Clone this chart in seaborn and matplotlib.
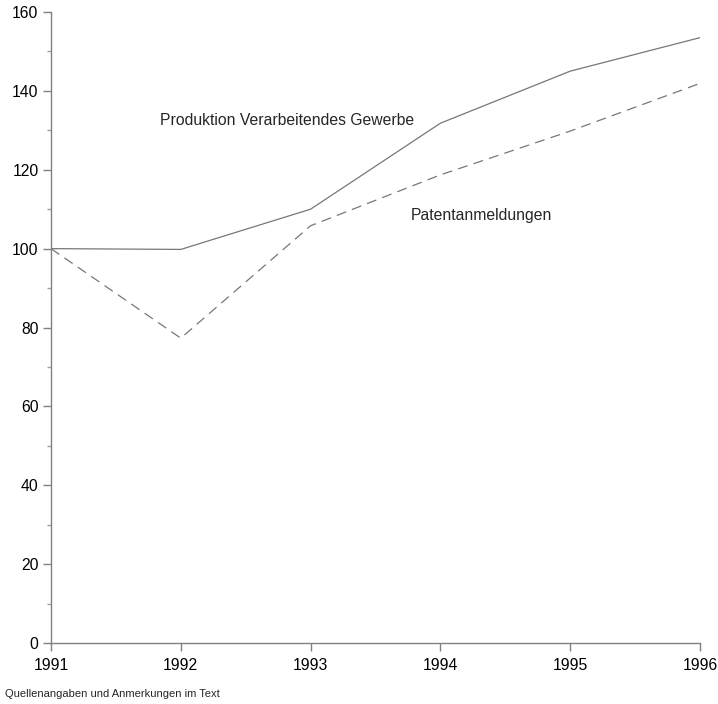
import pandas as pd
import matplotlib.pyplot as plt
import seaborn as sns

# values (index, 1991 = 100)
years = [1991, 1992, 1993, 1994, 1995, 1996]
produktion = [100, 99.8, 110.0, 131.8, 145.0, 153.5]
patente = [100, 77.3, 105.8, 118.7, 129.8, 141.9]

df = pd.DataFrame({
    'Jahr': years * 2,
    'Wert': produktion + patente,
    'Reihe': ['Produktion'] * len(years) + ['Patente'] * len(years),
})

sns.set_style('ticks')
plt.rcParams['font.family'] = ['Liberation Sans', 'DejaVu Sans']

fig = plt.figure(figsize=(7.18, 7.04), dpi=100)
ax = fig.add_axes([51 / 718, 1 - 643 / 704, 649 / 718, 631 / 704])

sns.lineplot(data=df, x='Jahr', y='Wert', style='Reihe',
             dashes={'Produktion': '', 'Patente': (8, 5)},
             color='#777777', linewidth=0.9, legend=False, ax=ax)

ax.set_xlim(1991, 1996)
ax.set_ylim(0, 160)
ax.set_xticks(years)
ax.set_yticks(range(0, 161, 20))
ax.set_yticks(range(10, 160, 20), minor=True)
ax.set_xlabel('')
ax.set_ylabel('')
sns.despine(ax=ax)
for s in ['left', 'bottom']:
    ax.spines[s].set_color('#808080')
    ax.spines[s].set_linewidth(1.0)
ax.tick_params(axis='both', which='major', length=6, width=1, color='#808080',
               labelsize=11.3, labelcolor='black', pad=3)
ax.tick_params(axis='y', which='minor', length=3, width=1, color='#a0a0a0')
ax.tick_params(axis='x', pad=5)

ax.text(1991.84, 132.5, 'Produktion Verarbeitendes Gewerbe', fontsize=11.3, va='center')
ax.text(1993.77, 108.5, 'Patentanmeldungen', fontsize=11.3, va='center')

fig.text(5 / 718, 1 - 694 / 704, 'Quellenangaben und Anmerkungen im Text', fontsize=8, va='center')

fig.savefig('out.png', dpi=100)
